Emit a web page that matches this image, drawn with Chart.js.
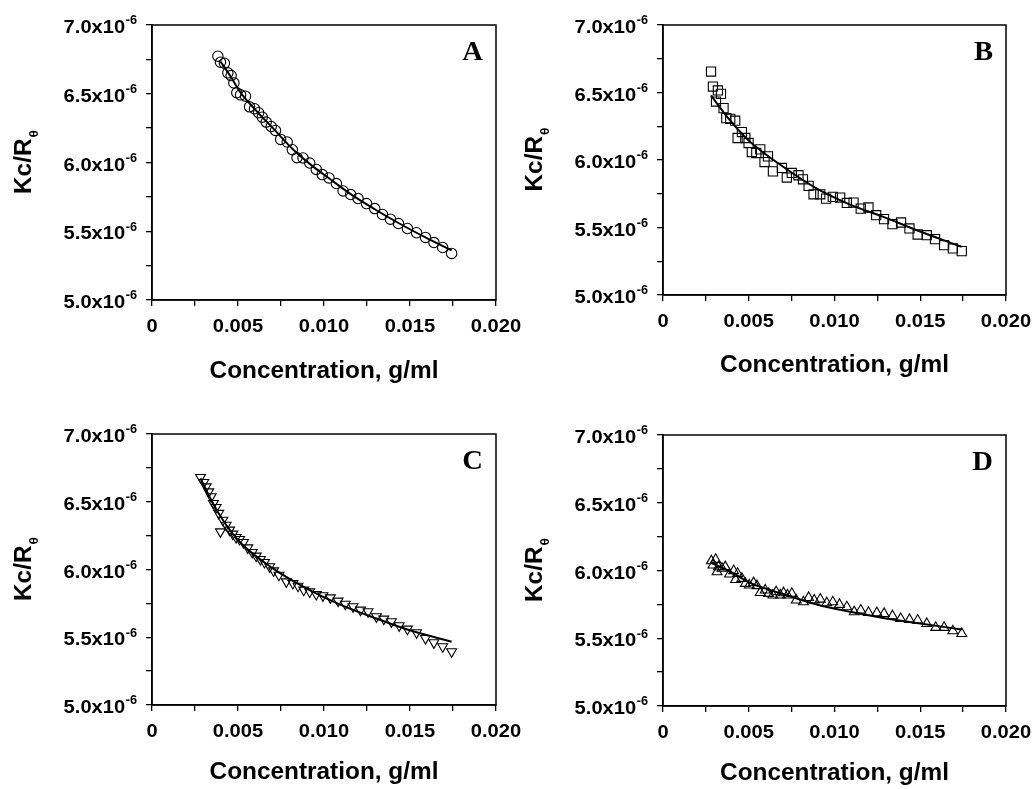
<!DOCTYPE html>
<html>
<head>
<meta charset="utf-8">
<script src="https://cdn.jsdelivr.net/npm/chart.js@4.4.0/dist/chart.umd.min.js"></script>
<style>
  html, body { margin: 0; padding: 0; background: #fff; }
  #wrap { position: relative; width: 1034px; height: 789px; overflow: hidden; }
  canvas { position: absolute; }
</style>
</head>
<body>
<div id="wrap">
  <canvas id="panelB" width="517" height="394" style="left:517px;top:0"></canvas>
  <canvas id="panelD" width="517" height="395" style="left:517px;top:394px"></canvas>
  <canvas id="panelA" width="545" height="394" style="left:0;top:0"></canvas>
  <canvas id="panelC" width="545" height="395" style="left:0;top:394px"></canvas>
</div>
<script>
// concentration in g/ml, Kc/R in units of 1e-6
const concA = [0.00383, 0.00398, 0.00421, 0.00441, 0.0046, 0.00476, 0.00493, 0.00515, 0.00544, 0.00567,
  0.00596, 0.0062, 0.00641, 0.00664, 0.00693, 0.00718, 0.00748, 0.00786, 0.00816, 0.00843,
  0.00878, 0.00917, 0.00955, 0.0099, 0.01029, 0.01072, 0.01111, 0.01155, 0.01198, 0.01247,
  0.01295, 0.0134, 0.01386, 0.01433, 0.01485, 0.01538, 0.0159, 0.01639, 0.0169, 0.01742];
const kcA = [6.773, 6.729, 6.722, 6.652, 6.632, 6.579, 6.507, 6.492, 6.482, 6.405,
  6.391, 6.362, 6.330, 6.294, 6.262, 6.233, 6.168, 6.149, 6.093, 6.035,
  6.033, 5.996, 5.950, 5.912, 5.888, 5.847, 5.793, 5.767, 5.738, 5.701,
  5.665, 5.622, 5.588, 5.556, 5.520, 5.489, 5.455, 5.418, 5.382, 5.339];
const fitConcA = [0.00398, 0.0046, 0.00509, 0.0060, 0.00703, 0.00816, 0.00917, 0.01029, 0.01155, 0.01295, 0.01433, 0.0159, 0.01742];
const fitKcA = [6.735, 6.620, 6.518, 6.385, 6.250, 6.100, 5.990, 5.885, 5.770, 5.660, 5.560, 5.455, 5.360];

const concB = [0.0028, 0.00291, 0.0032, 0.00338, 0.00309, 0.00353, 0.00369, 0.00392, 0.00421, 0.00435,
  0.0046, 0.0048, 0.00499, 0.00518, 0.00544, 0.00567, 0.00592, 0.00612, 0.00641, 0.00693,
  0.00722, 0.00751, 0.0079, 0.00816, 0.00849, 0.00878, 0.00917, 0.00951, 0.0099, 0.01033,
  0.01072, 0.01111, 0.01153, 0.01198, 0.01243, 0.01289, 0.01338, 0.01388, 0.01437, 0.01485,
  0.01538, 0.01586, 0.01639, 0.0169, 0.01742];
const kcB = [6.655, 6.544, 6.515, 6.490, 6.433, 6.384, 6.310, 6.305, 6.291, 6.163,
  6.207, 6.163, 6.126, 6.059, 6.052, 6.079, 5.985, 6.027, 5.916, 5.941,
  5.870, 5.904, 5.887, 5.857, 5.808, 5.746, 5.746, 5.714, 5.727, 5.722,
  5.682, 5.685, 5.640, 5.648, 5.591, 5.562, 5.525, 5.537, 5.493, 5.448,
  5.443, 5.414, 5.369, 5.345, 5.325];
const fitConcB = [0.0028, 0.0038, 0.00509, 0.00703, 0.00897, 0.01091, 0.01285, 0.0148, 0.01742];
const fitKcB = [6.478, 6.310, 6.133, 5.948, 5.788, 5.670, 5.579, 5.480, 5.357];

const concC = [0.00282, 0.00301, 0.00315, 0.0033, 0.00344, 0.00357, 0.00373, 0.00388, 0.00398, 0.00412,
  0.00431, 0.00451, 0.0047, 0.00489, 0.00509, 0.00532, 0.00557, 0.00583, 0.00606, 0.0063,
  0.00654, 0.00684, 0.00707, 0.00738, 0.00781, 0.00819, 0.00849, 0.00882, 0.00917, 0.00955,
  0.00994, 0.01037, 0.01082, 0.01124, 0.01169, 0.01212, 0.01256, 0.01305, 0.01348, 0.01392,
  0.01437, 0.01485, 0.01538, 0.0159, 0.01639, 0.0169, 0.01742];
const kcC = [6.680, 6.643, 6.611, 6.574, 6.538, 6.488, 6.459, 6.415, 6.279, 6.365,
  6.328, 6.292, 6.262, 6.237, 6.223, 6.200, 6.161, 6.127, 6.100, 6.075,
  6.053, 6.021, 5.991, 5.959, 5.910, 5.898, 5.878, 5.849, 5.836, 5.817,
  5.807, 5.792, 5.768, 5.745, 5.726, 5.701, 5.689, 5.652, 5.635, 5.615,
  5.586, 5.561, 5.534, 5.492, 5.460, 5.431, 5.394];
const fitConcC = [0.00282, 0.00344, 0.00412, 0.00509, 0.00703, 0.00897, 0.01091, 0.01285, 0.0148, 0.01742];
const fitKcC = [6.673, 6.513, 6.365, 6.205, 6.008, 5.861, 5.743, 5.647, 5.559, 5.467];

const concD = [0.00282, 0.00307, 0.00291, 0.00324, 0.00315, 0.00344, 0.00363, 0.00388, 0.00412, 0.00435,
  0.00423, 0.0046, 0.0048, 0.00503, 0.00528, 0.00548, 0.00567, 0.00596, 0.00616, 0.00641,
  0.0066, 0.00684, 0.00703, 0.00726, 0.00751, 0.00777, 0.00819, 0.00849, 0.00882, 0.00917,
  0.00955, 0.0099, 0.01029, 0.01072, 0.01115, 0.01153, 0.01198, 0.01247, 0.01289, 0.01338,
  0.01386, 0.01437, 0.01485, 0.01538, 0.0159, 0.01639, 0.0169, 0.01742];
const kcD = [6.071, 6.081, 6.039, 6.027, 5.990, 6.015, 6.027, 5.973, 5.998, 5.978,
  5.933, 5.941, 5.904, 5.892, 5.909, 5.887, 5.837, 5.855, 5.830, 5.818,
  5.842, 5.818, 5.835, 5.818, 5.830, 5.781, 5.768, 5.800, 5.781, 5.788,
  5.761, 5.768, 5.749, 5.731, 5.695, 5.707, 5.690, 5.687, 5.682, 5.665,
  5.645, 5.638, 5.633, 5.608, 5.579, 5.579, 5.554, 5.534];
const fitConcD = [0.00282, 0.00412, 0.00509, 0.00703, 0.00897, 0.01091, 0.01285, 0.0148, 0.01742];
const fitKcD = [6.057, 5.978, 5.909, 5.825, 5.749, 5.695, 5.650, 5.613, 5.564];

const xTickValues = [0, 0.005, 0.010, 0.015, 0.020];
const xTickLabels = ['0', '0.005', '0.010', '0.015', '0.020'];
const yTickValues = [5.0, 5.5, 6.0, 6.5, 7.0];
const yTickLabels = ['5.0x10', '5.5x10', '6.0x10', '6.5x10', '7.0x10'];
const yExponent = '-6';
const xTitle = 'Concentration, g/ml';

const SANS = '"Liberation Sans", Arial, sans-serif';
const SERIF = '"Liberation Serif", "Times New Roman", serif';
const SX = 1.06; // the original lettering is a little wider than Arial

function wideText(ctx, str, x, y, align) {
  const w = ctx.measureText(str).width * SX;
  let x0 = x;
  if (align === 'right') x0 = x - w;
  if (align === 'center') x0 = x - w / 2;
  ctx.save();
  ctx.translate(x0, y);
  ctx.scale(SX, 1);
  ctx.textAlign = 'left';
  ctx.fillText(str, 0, 0);
  ctx.restore();
  return w;
}

function decorPlugin(letter, titleGap) {
  return {
    id: 'decor',
    afterDraw(chart) {
      const ctx = chart.ctx;
      const a = chart.chartArea;
      const xs = chart.scales.x, ys = chart.scales.y;
      ctx.save();
      ctx.strokeStyle = '#000';
      ctx.lineWidth = 1.5;
      ctx.strokeRect(a.left, a.top, a.right - a.left, a.bottom - a.top);
      ctx.fillStyle = '#000';

      // y tick labels with exponent
      yTickValues.forEach((v, i) => {
        const py = ys.getPixelForValue(v);
        ctx.font = 'bold 12px ' + SANS;
        const wSup = ctx.measureText(yExponent).width * SX;
        const right = a.left - 15;
        ctx.textBaseline = 'middle';
        wideText(ctx, yExponent, right, py - 4, 'right');
        ctx.font = 'bold 19px ' + SANS;
        wideText(ctx, yTickLabels[i], right - wSup - 0.5, py + 3, 'right');
      });

      // x tick labels
      ctx.font = 'bold 19px ' + SANS;
      ctx.textBaseline = 'middle';
      xTickValues.forEach((v, i) => {
        wideText(ctx, xTickLabels[i], xs.getPixelForValue(v), a.bottom + 27, 'center');
      });

      // x title
      ctx.font = 'bold 23px ' + SANS;
      wideText(ctx, xTitle, (a.left + a.right) / 2, a.bottom + titleGap, 'center');

      // y title Kc/R with subscript theta
      ctx.save();
      ctx.translate(a.left - 121, (a.top + a.bottom) / 2);
      ctx.rotate(-Math.PI / 2);
      ctx.textBaseline = 'alphabetic';
      ctx.font = 'bold 23px ' + SANS;
      const wMain = ctx.measureText('Kc/R').width * SX;
      ctx.font = 'bold 13px ' + SANS;
      const wSub = ctx.measureText('θ').width * SX;
      const start = -(wMain + wSub) / 2;
      ctx.font = 'bold 23px ' + SANS;
      wideText(ctx, 'Kc/R', start, 0, 'left');
      ctx.font = 'bold 13px ' + SANS;
      wideText(ctx, 'θ', start + wMain + 1, 7, 'left');
      ctx.restore();

      // panel letter
      ctx.font = 'bold 27px ' + SERIF;
      ctx.textBaseline = 'alphabetic';
      wideText(ctx, letter, a.right - 13, a.top + 35, 'right');
      ctx.restore();
    }
  };
}

function makePanel(id, letter, conc, kc, fitConc, fitKc, marker, box) {
  const canvas = document.getElementById(id);
  const W = canvas.width, H = canvas.height;
  const points = conc.map((c, i) => ({ x: c, y: kc[i] }));
  const fit = fitConc.map((c, i) => ({ x: c, y: fitKc[i] }));
  const axisGrid = { drawOnChartArea: false, drawTicks: true, tickLength: 6, color: '#000', lineWidth: 1.3 };
  return new Chart(canvas.getContext('2d'), {
    type: 'scatter',
    data: {
      datasets: [
        {
          data: fit,
          showLine: true,
          pointRadius: 0,
          borderColor: '#000',
          borderWidth: 2,
          cubicInterpolationMode: 'monotone',
          fill: false
        },
        {
          data: points,
          showLine: false,
          pointStyle: marker.style,
          pointRadius: marker.r,
          pointRotation: marker.rot,
          pointBorderColor: '#000',
          pointBackgroundColor: 'rgba(0,0,0,0)',
          pointBorderWidth: 1.1
        }
      ]
    },
    options: {
      responsive: false,
      animation: false,
      events: [],
      layout: { padding: { left: 0, top: box.top, right: W - box.right, bottom: 0 } },
      plugins: { legend: { display: false }, tooltip: { enabled: false } },
      scales: {
        x: {
          type: 'linear', min: 0, max: 0.02,
          ticks: { display: false, stepSize: 0.0025 },
          grid: axisGrid,
          border: { color: '#000', width: 1.5 },
          afterFit(s) { s.height = H - box.bottom; }
        },
        y: {
          type: 'linear', min: 5, max: 7,
          ticks: { display: false, stepSize: 0.25 },
          grid: axisGrid,
          border: { color: '#000', width: 1.5 },
          afterFit(s) { s.width = box.left; }
        }
      }
    },
    plugins: [decorPlugin(letter, box.titleGap)]
  });
}

makePanel('panelA', 'A', concA, kcA, fitConcA, fitKcA,
  { style: 'circle', r: 5.2, rot: 0 }, { left: 152, top: 25, right: 496, bottom: 300, titleGap: 72 });
makePanel('panelB', 'B', concB, kcB, fitConcB, fitKcB,
  { style: 'rect', r: 6.5, rot: 0 }, { left: 146, top: 25, right: 489, bottom: 295, titleGap: 71 });
makePanel('panelC', 'C', concC, kcC, fitConcC, fitKcC,
  { style: 'triangle', r: 5.7, rot: 180 }, { left: 152, top: 40, right: 496, bottom: 311, titleGap: 68 });
makePanel('panelD', 'D', concD, kcD, fitConcD, fitKcD,
  { style: 'triangle', r: 5.7, rot: 0 }, { left: 146, top: 41, right: 489, bottom: 312, titleGap: 68 });
</script>
</body>
</html>
